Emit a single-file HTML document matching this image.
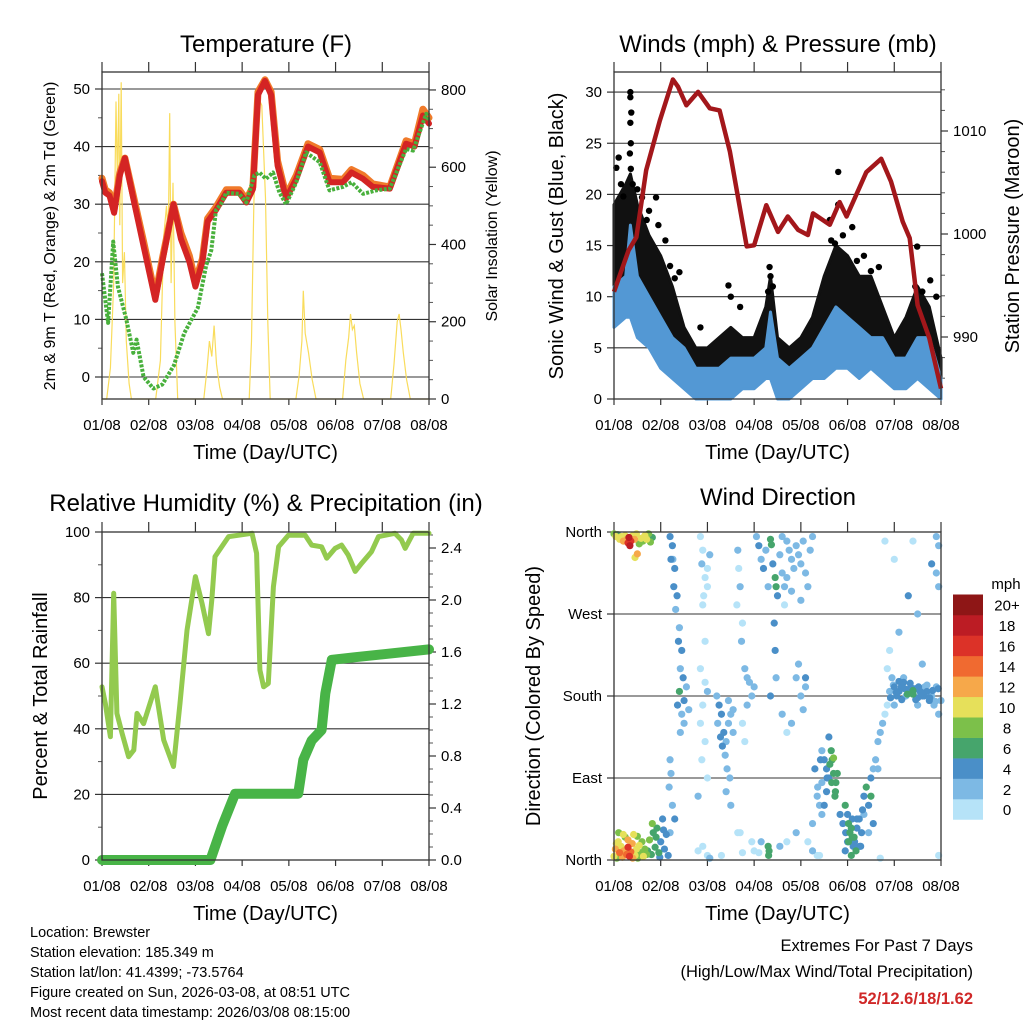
<!DOCTYPE html>
<html><head><meta charset="utf-8"><style>
body{margin:0;background:#fff}
svg{display:block;font-family:"Liberation Sans",Arial,sans-serif}
</style></head><body>
<svg id="c" width="1024" height="1024" viewBox="0 0 1024 1024" xmlns="http://www.w3.org/2000/svg"></svg>
<script>
// ---------- DATA ----------
const dayLabels=["01/08","02/08","03/08","04/08","05/08","06/08","07/08","08/08"];
// Temperature (F)
const tempT=[0,0.07,0.16,0.26,0.38,0.49,0.67,0.89,1.14,1.29,1.53,1.69,1.87,2.0,2.15,2.26,2.44,2.66,2.94,3.09,3.23,3.34,3.49,3.62,3.76,3.94,4.16,4.41,4.66,4.87,5.16,5.34,5.59,5.8,6.16,6.51,6.69,6.87,7.0];
const temp2m=[34,32,31.5,28.5,35,38,31,22.7,13.4,20,30,24,20,15.7,20,27,29,32,32,30.3,32.6,49,51.4,49,36.7,31,34.4,40,39,33.8,33.8,35.5,34.4,33,32.7,40.5,40,45.4,44];
const temp9m=[34.5,32.5,32,29,35.5,38,31.5,23.5,14,20.5,30,25,21,16.5,20.5,27.5,29.5,32.5,32.5,30.8,33,49.5,51.6,49.5,37.5,31.5,35,40.5,39.5,34.5,34.3,36,35,33.5,33,41,40.5,46.5,45];
const dewT=[0,0.13,0.24,0.34,0.52,0.67,0.74,0.89,1.1,1.29,1.54,1.76,2.05,2.23,2.34,2.44,2.54,2.66,2.94,3.09,3.26,3.37,3.51,3.66,3.8,3.94,4.16,4.37,4.66,4.87,5.16,5.34,5.59,5.87,6.16,6.51,6.66,6.94,7.0];
const dewV=[18,9.4,23.5,15.7,10,4.2,6.5,0,-2,-1.3,2,7.6,12,19.4,22,29,30,32,31.8,30.3,35,35.5,34.4,35.5,32,30,33.8,39,37.3,32.4,33,33.8,31.8,32.4,32.7,39.6,39.3,45.7,44.5];
// Solar insolation (W/m2)
const solarT=[0,0.1,0.18,0.25,0.3,0.33,0.36,0.38,0.41,0.44,0.48,0.52,0.58,0.63,1.15,1.25,1.32,1.38,1.42,1.45,1.48,1.52,1.56,1.62,2.18,2.25,2.3,2.35,2.4,2.45,2.52,2.58,3.15,3.2,3.25,3.3,3.35,3.42,3.5,3.55,3.6,4.15,4.22,4.28,4.31,4.35,4.42,4.5,4.58,5.15,5.22,5.28,5.32,5.36,5.4,5.45,5.52,5.6,6.18,6.25,6.32,6.36,6.4,6.45,6.52,6.6,7.0];
const solarV=[0,0,80,300,770,560,790,450,820,300,380,150,40,0,0,100,420,500,420,740,300,560,200,0,0,80,150,110,190,90,30,0,0,150,500,700,780,760,520,200,0,0,60,150,280,170,120,50,0,0,100,160,220,180,190,120,40,0,0,90,200,220,180,120,50,0,0];
// Winds (mph)
const windT=[0,0.25,0.35,0.5,0.75,1,1.25,1.5,1.75,2,2.25,2.5,2.75,3,3.25,3.35,3.5,3.75,4,4.25,4.5,4.75,5,5.25,5.5,5.75,6,6.25,6.5,6.75,7];
const windLo=[7,8,8,6,5,3,2,1,0,0,0,0,1,1,2,2,0,0,1,2,2,3,3,2,3,2,1,1,2,1,0];
const windHi=[11,12,17,12,10,8,6,5,3,3,3,4,4,4,5,8.5,4,3,4,5,7,9,8,7,6,6,4,4,6,6,2];
const gustLo=[9,10,10,9,7,6,4,2,1,1,1,2,2,2,3,3,1,1,2,3,4,5,5,4,4,3,2,3,4,3,1];
const gustHi=[19,21,22,19,16,14,11,7,5,5,6,7,6,6,9,12,6,5,6,8,12,15,14,12,12,9,6,8,11,9,4];
const gustPtT=[0.35,0.35,0.37,0.35,0.36,0.34,0.36,0.1,0.05,0.2,0.4,0.6,0.9,0.75,0.95,1.4,1.3,2.45,2.5,3.33,3.35,3.4,4.8,4.73,4.8,5.1,5.35,5.67,4.62,4.65,6.49,6.77,6.45,6.9,1.85,2.7,0.15,0.5,0.7,1.1,1.2,3.3,4.9,5.2,5.5,6.6];
const gustPtV=[30,29.5,28,27,25,24,22.5,23.6,22.6,19.8,21,19.7,19.7,18.4,17,12.4,11.8,11.1,10,12.9,12,11,22.2,15.2,19,16.8,14,12.9,17.5,15.5,14.9,11.6,11,10,7,9,21,20.5,17.5,15.5,13,10.5,16,13.5,12.5,10.5];
// Pressure (mb)
const presT=[0,0.31,0.48,0.69,0.98,1.26,1.37,1.55,1.8,2.05,2.26,2.48,2.84,3.0,3.26,3.51,3.72,3.94,4.15,4.26,4.62,4.83,4.98,5.4,5.72,5.93,6.18,6.33,6.5,6.75,7.0];
const presV=[994.4,998.4,999.7,1006.2,1011,1015,1014.3,1012.5,1013.8,1012.2,1012,1008,998.8,998.9,1002.8,1000.2,1001.7,1000.4,999.9,1002,1000.9,1003.1,1001.7,1006,1007.3,1005.1,1001.2,999.6,993.1,989.9,985];
// Relative humidity (%)
const rhT=[0,0.07,0.18,0.25,0.32,0.43,0.57,0.68,0.75,0.89,1.14,1.32,1.53,1.67,1.82,2.0,2.14,2.28,2.35,2.42,2.71,3.21,3.31,3.38,3.46,3.56,3.67,3.78,3.99,4.35,4.49,4.7,4.81,4.99,5.13,5.27,5.42,5.56,5.77,5.92,6.27,6.41,6.49,6.66,7.0];
const rhV=[52.8,47.8,37.6,81.3,44.7,38.6,31.5,33.5,44.7,41.6,52.8,36.6,28.5,47.8,70,86.4,78.3,69,79.3,92.5,98.6,99.6,93.5,57.9,52.8,53.8,83.3,95.5,99,99,96,95.5,92,95,96,93,88,90.5,94,98.6,99.6,97.6,95,99.6,99.6];
// Precipitation (in)
const prT=[0,2.32,2.57,2.85,4.2,4.31,4.49,4.7,4.78,4.92,5.42,7.0];
const prV=[0,0,0.26,0.51,0.51,0.77,0.92,1.0,1.28,1.54,1.56,1.62];
// Wind direction (day, degrees, speed mph)
const dirDay=[
0,0.04,0.08,0.12,0.16,0.2,0.24,0.28,0.3,0.32,0.34,0.36,0.4,0.44,0.48,0.5,0.54,0.58,0.62,0.66,0.7,0.74,0.78,0.82,0.45,
0,0.03,0.06,0.09,0.12,0.15,0.18,0.21,0.24,0.27,0.3,0.33,0.36,0.39,0.42,0.45,0.48,0.51,0.54,0.57,0.6,0.63,0.66,0.7,0.1,0.2,0.3,0.4,0.5,0.05,0.72,0.76,0.8,0.84,0.88,0.92,0.96,1.0,1.04,1.08,1.12,1.16,0.82,0.9,0.98,1.06,
1.2,1.25,1.22,1.3,1.28,1.35,1.32,1.4,1.38,1.45,1.42,1.48,1.4,1.5,1.45,1.5,1.42,1.2,1.22,1.18,1.25,1.3,1.2,1.26,1.36,1.55,1.6,
1.85,1.9,1.88,1.95,2.0,1.92,2.05,2.0,1.9,1.85,1.95,2.0,1.9,1.85,1.95,1.88,2.0,1.8,1.9,2.0,1.95,
2.2,2.25,2.3,2.22,2.35,2.28,2.4,2.32,2.45,2.5,2.38,2.42,2.48,2.4,2.5,2.45,2.55,2.55,
2.65,2.67,2.7,2.63,2.75,2.73,2.8,2.85,2.9,2.95,3.0,2.85,2.75,2.8,2.95,3.0,2.65,2.75,
3.05,3.1,3.15,3.2,3.25,3.3,3.35,3.37,3.4,3.45,3.47,3.5,3.55,3.6,3.65,3.43,3.45,3.47,3.35,3.3,3.32,3.31,3.15,3.55,
3.6,3.7,3.75,3.8,3.85,3.9,3.95,4.0,4.05,4.1,4.15,4.2,4.25,3.7,3.8,4.0,3.65,
3.9,4.0,4.1,4.05,3.8,3.95,4.1,3.7,3.6,
4.45,4.5,4.55,4.6,4.65,4.67,4.7,4.75,4.73,4.55,4.45,4.35,4.4,4.45,4.25,4.15,4.25,4.35,4.6,
4.95,5.0,5.02,5.05,5.1,5.12,5.15,5.2,5.18,5.25,5.3,5.28,5.35,5.0,5.1,5.08,
5.35,5.4,5.45,5.5,5.55,5.6,5.65,5.7,5.75,5.55,5.5,5.65,5.8,5.85,5.45,
5.9,6.0,6.05,6.1,6.15,6.2,6.25,6.3,6.35,6.4,6.45,6.5,6.55,6.6,6.65,6.7,6.75,6.8,6.85,6.9,6.95,7.0,5.95,6.0,5.85,5.9,6.1,6.6,
6.9,6.95,6.8,6.9,6.95,6.4,6.3,6.5,5.8,6.0,6.95,
1.8,2.3,2.7,3.1,3.7,3.9,4.4,5.7,2.05,
5.92,5.98,6.04,6.1,6.16,6.22,6.28,6.34,6.4,6.46,6.52,6.58,6.64,6.7,6.76,6.82,6.88,6.94,6.2,6.5,
4.3,4.36,4.42,4.5,4.56,4.62,4.66,4.7,4.74,4.78,4.84,4.9,4.96,5.02,5.08,5.14,5.2,5.26,5.32,4.95];
const dirDeg=[
358,355,357,352,355,350,356,352,348,354,345,350,356,352,358,336,347,353,350,356,352,358,349,354,332,
4,12,2,20,8,15,3,10,25,6,14,4,9,18,28,5,12,2,16,8,20,4,12,6,30,28,22,2,26,18,10,22,6,30,14,35,8,20,45,12,28,5,40,25,3,33,
355,345,330,320,300,290,275,255,240,230,210,200,185,175,160,150,140,110,95,80,60,45,30,330,170,190,165,
355,340,325,310,300,290,335,320,280,210,195,185,170,150,130,110,90,70,15,5,240,
180,170,160,150,140,135,130,125,150,160,115,100,90,75,60,175,165,140,
340,320,300,280,260,240,210,200,195,180,190,170,150,130,20,10,30,8,
355,345,330,320,340,300,352,346,325,310,300,290,335,315,300,260,230,200,180,15,10,5,20,15,
355,350,340,330,320,345,335,325,350,315,300,340,355,310,295,285,280,
200,180,190,165,150,215,200,140,160,
120,110,100,90,120,110,95,85,70,75,85,70,60,50,40,20,10,5,135,
60,50,40,30,25,15,20,35,10,45,30,15,50,20,45,5,
70,80,60,90,100,110,130,140,150,40,70,100,160,170,30,
185,190,180,185,190,195,180,185,190,182,188,178,185,180,190,185,175,180,170,190,160,175,200,170,210,230,250,215,
355,345,325,315,300,350,290,270,350,330,5,
10,5,30,8,20,30,5,2,2,
178,192,184,196,176,188,182,194,186,176,190,184,180,192,178,186,174,188,200,170,
100,80,110,60,90,105,85,112,75,95,50,40,30,20,35,25,45,15,55,10];
const dirSpd=[
8,10,6,11,10,12,10,13,16,18,18,17,11,12,10,13,8,10,9,10,11,8,9,7,11,
10,12,8,11,14,10,12,13,9,15,16,17,14,12,10,11,10,9,10,9,8,10,8,9,8,10,12,13,9,11,7,8,7,6,7,6,6,5,5,4,4,4,8,6,5,4,
4,4,5,4,4,4,3,3,4,4,2,4,6,4,3,2,2,2,2,2,3,4,3,2,4,2,2,
1,1,2,1,1,1,2,1,1,1,1,2,1,1,1,1,1,2,1,1,1,
3,4,4,3,4,4,3,4,3,2,3,3,3,2,3,2,2,2,
2,1,2,1,1,2,2,2,3,3,2,2,1,1,1,1,1,1,
3,4,3,4,3,3,7,7,4,6,6,4,3,2,2,4,4,3,4,7,6,6,2,3,
2,3,2,3,2,2,2,3,2,2,2,2,2,2,2,2,1,
2,2,3,2,2,2,4,1,2,
3,4,4,5,6,7,7,7,6,4,3,2,3,3,2,1,2,1,4,
6,5,6,6,6,5,4,4,6,4,4,4,3,4,4,7,
4,6,4,4,3,3,2,2,2,4,6,3,1,1,3,
3,4,4,4,4,4,3,4,5,6,4,4,4,4,3,4,4,3,3,2,3,2,2,2,1,1,2,2,
2,2,4,2,2,1,4,2,1,1,1,
1,1,1,1,1,2,1,1,2,
4,3,4,5,4,4,6,4,7,4,4,5,4,3,4,4,3,4,2,2,
4,3,5,4,4,7,7,8,6,7,5,4,5,7,6,7,4,5,4,5];
const cbLabels=["0","2","4","6","8","10","12","14","16","18","20+"];
const cbColors=["#b6e3f8","#7db9e4","#4a8fc8","#46a56c","#7cc04a","#e6e05a","#f6a84a","#f06a30","#dc3228","#bc1c24","#8e1616"];

// ---------- HELPERS ----------
const NS="http://www.w3.org/2000/svg";
const svg=document.getElementById('c');
function mk(tag,attrs,parent){const e=document.createElementNS(NS,tag);for(const k in attrs)e.setAttribute(k,attrs[k]);(parent||svg).appendChild(e);return e;}
function txt(s,x,y,size,anchor,parent,extra){const e=mk('text',Object.assign({x:x,y:y,'font-size':size,'text-anchor':anchor||'middle',fill:'#000'},extra||{}),parent);e.textContent=s;return e;}
function pts(ts,vs,fx,fy){return ts.map((t,i)=>fx(t).toFixed(1)+','+fy(vs[i]).toFixed(1)).join(' ');}

const DAYW=327/7;
function panelFrame(name,x0,x1,y0,y1,grid,fy){
  const g=mk('g',{});
  
  
  grid.forEach(v=>{const l=mk('line',{x1:x0,x2:x1,y1:fy(v),y2:fy(v),stroke:'#333','stroke-width':1.1},g);
    
    });
  for(let d=0;d<=7;d++){const x=x0+d*DAYW;
    const t1=mk('line',{x1:x,x2:x,y1:y1,y2:y1+6,stroke:'#333','stroke-width':1.2},g);
    
    
    const t2=mk('line',{x1:x,x2:x,y1:y0,y2:y0-10,stroke:'#333','stroke-width':1.2},g);
    
    
    const lb=txt(dayLabels[d],x,y1+31,15,'middle',g);
    
    }
  const xt=txt('Time (Day/UTC)',(x0+x1)/2,y1+60,20,'middle',g);
  
  
  return g;
}
function border(x0,x1,y0,y1,name){const r=mk('rect',{x:x0,y:y0,width:x1-x0,height:y1-y0,fill:'none',stroke:'#333','stroke-width':1.3});
  
  }
function yTicks(xAxis,vals,labels,fy,side,minor,g){
  const dir=side==='left'?-1:1;
  vals.forEach((v,i)=>{const y=fy(v);
    const t=mk('line',{x1:xAxis,x2:xAxis+dir*7,y1:y,y2:y,stroke:'#333','stroke-width':1.2},g);
    
    
    const l=txt(labels[i],xAxis+dir*12,y+5,15,side==='left'?'end':'start',g);
    
    });
  (minor||[]).forEach(v=>{const y=fy(v);
    const t=mk('line',{x1:xAxis,x2:xAxis+dir*4,y1:y,y2:y,stroke:'#555','stroke-width':1},g);
    
    });
}
function rotTitle(s,x,y,size,name){const e=txt(s,x,y,size,'middle',svg,{transform:'rotate(-90 '+x+' '+y+')'});
  
  }
function title(s,x,y,name){const e=txt(s,x,y,24,'middle');
  
  }
function range(a,b,s){const r=[];for(let v=a;v<=b+1e-9;v+=s)r.push(+v.toFixed(3));return r;}

// ---------- PANEL 1: TEMPERATURE ----------
(function(){
const x0=102,x1=429,y0=72,y1=399;
const fx=d=>x0+d*DAYW, fy=t=>377-t*5.76, fs=s=>399-s*0.3863;
const g=panelFrame('temperature-panel',x0,x1,y0,y1,[0,10,20,30,40,50],fy);
title('Temperature (F)',266,52,'temperature-title');
const sol=mk('polyline',{points:pts(solarT,solarV,fx,fs),fill:'none',stroke:'#f9dc5c','stroke-width':1.2});


const o=mk('polyline',{points:pts(tempT,temp9m,fx,fy),fill:'none',stroke:'#f07a2a','stroke-width':7,'stroke-linejoin':'round','stroke-linecap':'round'});


const r=mk('polyline',{points:pts(tempT,temp2m,fx,fy),fill:'none',stroke:'#d42424','stroke-width':6,'stroke-linejoin':'round','stroke-linecap':'round'});


const gd=mk('polyline',{points:pts(dewT,dewV,fx,fy),fill:'none',stroke:'#48b03c','stroke-width':4,'stroke-dasharray':'3 1.5','stroke-linejoin':'round'});


border(x0,x1,y0,y1,'temperature-plot-frame');
yTicks(x0,[0,10,20,30,40,50],["0","10","20","30","40","50"],fy,'left',[5,15,25,35,45],g);
yTicks(x1,[0,200,400,600,800],["0","200","400","600","800"],fs,'right',[50,100,150,250,300,350,450,500,550,650,700,750],g);
rotTitle('2m & 9m T (Red, Orange) & 2m Td (Green)',55,236,16,'temperature-y-title');
rotTitle('Solar Insolation (Yellow)',497,236,16,'solar-y-title');
})();

// ---------- PANEL 2: WINDS & PRESSURE ----------
(function(){
const x0=614,x1=941,y0=72,y1=399;
const fx=d=>x0+d*DAYW, fy=v=>399-v*10.23, fp=p=>234-(p-1000)*10.3;
const g=panelFrame('winds-panel',x0,x1,y0,y1,[5,10,15,20,25,30],fy);
title('Winds (mph) & Pressure (mb)',778,52,'winds-title');
const band=(lo,hi,col,name)=>{const p=windT.map((t,i)=>fx(t).toFixed(1)+','+fy(hi[i]).toFixed(1)).concat(windT.slice().reverse().map((t,j)=>{const i=windT.length-1-j;return fx(t).toFixed(1)+','+fy(lo[i]).toFixed(1);})).join(' ');
  const e=mk('polygon',{points:p,fill:col,stroke:col,'stroke-width':3,'stroke-linejoin':'round'});
  
  };
band(gustLo,gustHi,'#111','gust-band');
gustPtT.forEach((t,i)=>{const c=mk('circle',{cx:fx(t),cy:fy(gustPtV[i]),r:3.2,fill:'#000'});
  
  });
band(windLo,windHi,'#5398d4','wind-band');
const pl=mk('polyline',{points:pts(presT,presV,fx,fp),fill:'none',stroke:'#a3171b','stroke-width':4.5,'stroke-linejoin':'round'});


border(x0,x1,y0,y1,'winds-plot-frame');
yTicks(x0,[0,5,10,15,20,25,30],["0","5","10","15","20","25","30"],fy,'left',[],g);
yTicks(x1,[990,1000,1010],["990","1000","1010"],fp,'right',[986,988,992,994,996,998,1002,1004,1006,1008,1012,1014],g);
rotTitle('Sonic Wind & Gust (Blue, Black)',563,236,20,'winds-y-title');
rotTitle('Station Pressure (Maroon)',1019,236,20,'pressure-y-title');
})();

// ---------- PANEL 3: RH & PRECIP ----------
(function(){
const x0=102,x1=429,y0=532,y1=860;
const fx=d=>x0+d*DAYW, fy=v=>860-v*3.28, fr=v=>860-v*130;
const g=panelFrame('humidity-panel',x0,x1,y0,y1,[20,40,60,80],fy);
title('Relative Humidity (%) & Precipitation (in)',266,511,'humidity-title');
const rh=mk('polyline',{points:pts(rhT,rhV,fx,fy),fill:'none',stroke:'#93ca4f','stroke-width':5,'stroke-linejoin':'round','stroke-linecap':'round'});


const pr=mk('polyline',{points:pts(prT,prV,fx,fr),fill:'none',stroke:'#48b447','stroke-width':10,'stroke-linejoin':'round','stroke-linecap':'round'});


border(x0,x1,y0,y1,'humidity-plot-frame');
yTicks(x0,[0,20,40,60,80,100],["0","20","40","60","80","100"],fy,'left',[10,30,50,70,90],g);
yTicks(x1,[0,0.4,0.8,1.2,1.6,2.0,2.4],["0.0","0.4","0.8","1.2","1.6","2.0","2.4"],fr,'right',range(0.1,2.5,0.1).filter(v=>Math.abs(v*10%4)>0.01),g);
rotTitle('Percent & Total Rainfall',47,696,20,'humidity-y-title');
})();

// ---------- PANEL 4: WIND DIRECTION ----------
(function(){
const x0=614,x1=941,y0=532,y1=860;
const fx=d=>x0+d*DAYW, fy=v=>860-v*0.9111;
const g=panelFrame('wind-direction-panel',x0,x1,y0,y1,[90,180,270],fy);
title('Wind Direction',778,505,'wind-direction-title');
const bin=s=>Math.min(10,Math.floor(s/2));
const n=Math.min(dirDay.length,dirDeg.length,dirSpd.length);
const order=[...Array(n).keys()].sort((a,b)=>dirSpd[a]-dirSpd[b]);
order.forEach(i=>{const c=mk('circle',{cx:fx(dirDay[i]),cy:fy(dirDeg[i]),r:3.6,fill:cbColors[bin(dirSpd[i])]});
  
  });
border(x0,x1,y0,y1,'wind-direction-plot-frame');
const names=["North","East","South","West","North"];
yTicks(x0,[0,90,180,270,360],names,fy,'left',[],g);
rotTitle('Direction (Colored By Speed)',540,696,20,'wind-direction-y-title');
// colorbar
const cb=mk('g',{});


const bh=20.45, top=594.5;
cbColors.forEach((col,i)=>{const y=top+(10-i)*bh;
  const r=mk('rect',{x:953,y:y,width:30,height:bh+0.3,fill:col},cb);
  
  
  const t=txt(cbLabels[i],1007,y+bh/2+6,15,'middle',cb);
  
  });
const u=txt('mph',1006,589,15,'middle',cb);


})();

// ---------- FOOTER ----------
const info=["Location: Brewster","Station elevation: 185.349 m","Station lat/lon: 41.4399; -73.5764","Figure created on Sun, 2026-03-08, at 08:51 UTC","Most recent data timestamp: 2026/03/08 08:15:00"];
info.forEach((s,i)=>{const e=txt(s,30,937+i*20,14.5,'start');
  
  });
const ex1=txt('Extremes For Past 7 Days',973,951,16.5,'end');


const ex2=txt('(High/Low/Max Wind/Total Precipitation)',973,977,16.5,'end');


const ex3=txt('52/12.6/18/1.62',973,1004,16.5,'end',svg,{fill:'#d02828','font-weight':'bold'});


</script>
</body></html>
